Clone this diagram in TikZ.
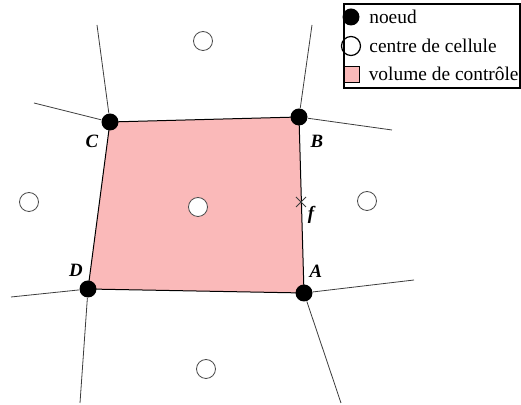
\documentclass[tikz,border=0pt]{standalone}
\usepackage{fontspec}
\setmainfont{Liberation Serif}
\usetikzlibrary{positioning}
\definecolor{volcolor}{RGB}{250,185,185}
\definecolor{gridcolor}{RGB}{60,60,60}
\tikzset{
  noeud/.style={
    circle,
    fill=black,
    inner sep=0pt,
    minimum size=8.5pt
  },
  centre/.style={
    circle,
    draw=black!70,
    fill=white,
    inner sep=0pt,
    minimum size=9.5pt,
    thin
  },
  maille/.style={
    gridcolor,
    line width=0.4pt
  },
  lettre/.style={
    font=\fontsize{9.4}{11}\selectfont\bfseries\itshape
  },
  legende/.style={
    font=\rmfamily\fontsize{9.7}{11}\selectfont,
    inner sep=0pt,
    anchor=west
  }
}

\begin{document}
\begin{tikzpicture}[x=0.5pt, y=-0.5pt]
\useasboundingbox (0,0) rectangle (521,405);

% Control volume
\fill[volcolor] (110,122) -- (299,117) -- (304,293) -- (88,289) -- cycle;
\draw[black, line width=0.5pt] (110,122) -- (299,117) -- (304,293) -- (88,289) -- cycle;

% Nodes
\node[noeud] (C) at (110,122) {};
\node[noeud] (B) at (299,117) {};
\node[noeud] (A) at (304,293) {};
\node[noeud] (D) at (88,289) {};

% Cell centres
\node[centre] (P) at (198,207) {};
\node[centre] (N) at (203,41) {};
\node[centre] (W) at (29,202) {};
\node[centre] (E) at (367,201) {};
\node[centre] (S) at (206,369) {};

% Free ends of the mesh
\coordinate (Cn) at (97,25);
\coordinate (Cw) at (34,103);
\coordinate (Bn) at (312,25);
\coordinate (Be) at (392,130);
\coordinate (Ae) at (414,280);
\coordinate (As) at (341,403);
\coordinate (Dw) at (11,297);
\coordinate (Ds) at (80,403);

% Mesh lines
\draw[maille] (C) -- (Cn);
\draw[maille] (C) -- (Cw);
\draw[maille] (B) -- (Bn);
\draw[maille] (B) -- (Be);
\draw[maille] (A) -- (Ae);
\draw[maille] (A) -- (As);
\draw[maille] (D) -- (Dw);
\draw[maille] (D) -- (Ds);

% Face point
\coordinate (f) at (301,202);
\draw[gridcolor, line width=0.4pt] ([shift={(-5,-5)}]f) -- ([shift={(5,5)}]f)
  ([shift={(-5,5)}]f) -- ([shift={(5,-5)}]f);
\node[lettre] at (311,215) {f};

% Labels
\node[lettre] at (92,141) {C};
\node[lettre] at (317,141) {B};
\node[lettre] at (316,271) {A};
\node[lettre] at (76,270) {D};

% Legend
\node[noeud] (lg1) at (351,17) {};
\node[centre, draw=black, line width=0.6pt] (lg2) at (351,46) {};
\node[draw=black, fill=volcolor, inner sep=0pt, minimum size=8pt] (lg3) at (351,74) {};
\node[legende, right=4.5pt of lg1] {noeud};
\node[legende, right=4pt of lg2] {centre de cellule};
\node[legende, right=4.5pt of lg3] {volume de contrôle};
\coordinate (lgnw) at (344,4);
\coordinate (lgse) at (520,88);
\draw[black, line width=0.6pt] (lgnw) rectangle (lgse);

\end{tikzpicture}
\end{document}
